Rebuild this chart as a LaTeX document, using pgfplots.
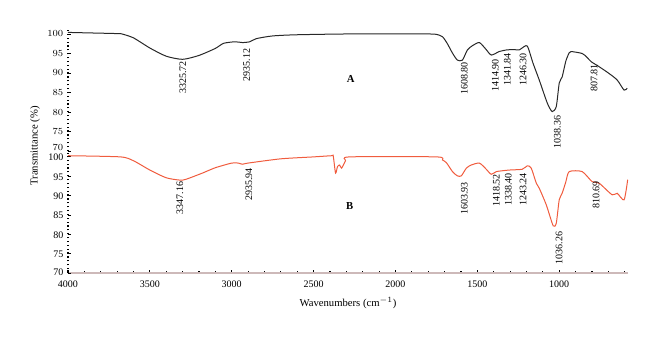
\documentclass[border=0pt]{standalone}
\usepackage{pgfplots}
\pgfplotsset{compat=1.18}
\usepackage{fontspec}
\setmainfont{Liberation Serif}
\definecolor{curveA}{RGB}{40,40,40}
\definecolor{curveB}{RGB}{240,92,62}
\definecolor{xline}{RGB}{205,185,185}
\pgfplotstableread{
x y
4000 100.4
3900 100.3
3700 100.1
3670 100.0
3600 99.0
3500 96.4
3400 94.3
3300 93.5
3200 94.5
3100 96.3
3050 97.6
2980 98.0
2935 97.8
2890 98.0
2850 98.8
2750 99.5
2600 99.8
2300 100
2000 100
1800 100
1750 99.9
1713 99.3
1683 97.5
1652 95.1
1622 93.3
1591 93.3
1561 95.9
1530 97.0
1488 97.8
1450 96.2
1415 94.6
1366 95.5
1323 95.9
1280 96.0
1244 95.9
1230 96.3
1195 96.9
1160 92.5
1122 88.2
1073 82.3
1043 80.1
1018 81.4
1000 87.4
982 89.0
960 93.0
939 95.2
927 95.5
860 95.0
830 94.0
805 92.9
756 91.6
700 90.0
646 88.2
604 85.6
585 86.1
}\dataA
\pgfplotstableread{
x y
4000 100.3
3680 100.0
3600 99.0
3500 96.6
3400 94.6
3317 94.0
3280 94.2
3180 95.8
3100 97.2
3000 98.4
2960 98.4
2935 98.1
2900 98.4
2700 99.5
2500 100.0
2390 100.3
2380 100.2
2366 95.8
2354 97.5
2341 97.9
2329 97.1
2305 99.0
2280 100.0
1750 100.0
1713 99.2
1689 98.5
1652 96.2
1622 95.1
1598 95.1
1567 97.1
1537 97.9
1488 98.4
1450 97.0
1415 95.5
1384 96.2
1305 96.6
1226 96.8
1195 97.7
1171 97.1
1140 93.2
1122 91.9
1079 87.6
1037 82.2
1018 82.9
1000 88.9
982 90.6
960 93.5
939 96.2
860 96.2
799 93.6
756 93.2
677 90.2
646 90.6
604 88.9
582 94.1
}\dataB
\begin{document}
\begin{tikzpicture}
\path[use as bounding box] (0,0) rectangle (495pt,-252.75pt);
\pgfplotsset{
  common/.style={
    scale only axis, width=420pt, x dir=reverse,
    xmin=580, xmax=4000, ymin=70, ymax=101,
    y axis line style={black, line width=0.9pt, dash pattern=on 0.9pt off 2pt},
    ytick style={black, line width=0.6pt},
    major tick length=2pt,
    tick label style={font=\fontsize{7.5}{9}\selectfont},
    clip=false,
  },
}
\begin{axis}[common, at={(51pt,-113.25pt)}, anchor=south west,
  height=90.7pt, axis y line*=left, axis x line=none,
  ytick={75,80,...,100},
  extra y ticks={70},
  extra y tick style={yticklabel style={yshift=2.5pt}}]
\addplot[curveA, line width=0.75pt, smooth, tension=0.4] table[x=x,y=y]{\dataA};
\node[font=\fontsize{8}{9}\selectfont\bfseries] at (axis cs:2274,88.5) {A};
\begin{scope}[every node/.style={rotate=90, anchor=east, font=\fontsize{7.5}{9}\selectfont, inner sep=1pt}]
\node at (axis cs:3299,93.4) {3325.72};
\node at (axis cs:2909,96.6) {2935.12};
\node at (axis cs:1579,93.2) {1608.80};
\node at (axis cs:1390,93.9) {1414.90};
\node at (axis cs:1317,95.5) {1341.84};
\node at (axis cs:1220,95.5) {1246.30};
\node at (axis cs:1012,79.4) {1038.36};
\node at (axis cs:787,92.7) {807.81};
\end{scope}
\end{axis}
\begin{axis}[common, at={(51pt,-204.75pt)}, anchor=south west,
  height=90pt, axis y line*=left, axis x line*=bottom,
  ytick={75,80,...,100},
  extra y ticks={70},
  extra y tick style={yticklabel style={yshift=1pt}},
  yticklabel style={yshift=-0.5pt},
  x axis line style={xline, line width=0.8pt},
  xtick={1000,1500,...,4000},
  minor xtick={600,700,...,4000},
  xtick style={black, line width=0.9pt},
  minor tick length=1.5pt,
  xlabel={Wavenumbers (cm$^{-1}$)},
  xlabel style={font=\fontsize{8}{9}\selectfont, yshift=-1pt},
  x tick label style={/pgf/number format/1000 sep={}, yshift=-2pt},
  /pgf/number format/assume math mode=true]
\addplot[curveB, line width=0.75pt, smooth, tension=0.4] table[x=x,y=y]{\dataB};
\node[font=\fontsize{8}{9}\selectfont\bfseries] at (axis cs:2280,87.3) {B};
\begin{scope}[every node/.style={rotate=90, anchor=east, font=\fontsize{7.5}{9}\selectfont, inner sep=1pt}]
\node at (axis cs:3317,94.0) {3347.16};
\node at (axis cs:2896,97.5) {2935.94};
\node at (axis cs:1579,93.9) {1603.93};
\node at (axis cs:1384,95.9) {1418.52};
\node at (axis cs:1311,96.2) {1338.40};
\node at (axis cs:1220,96.2) {1243.24};
\node at (axis cs:1000,81.1) {1036.26};
\node at (axis cs:774,94.1) {810.69};
\end{scope}
\end{axis}
\node[rotate=90, font=\fontsize{8}{9}\selectfont] at (26.25pt,-109.5pt) {Transmittance (\%)};
\end{tikzpicture}
\end{document}
